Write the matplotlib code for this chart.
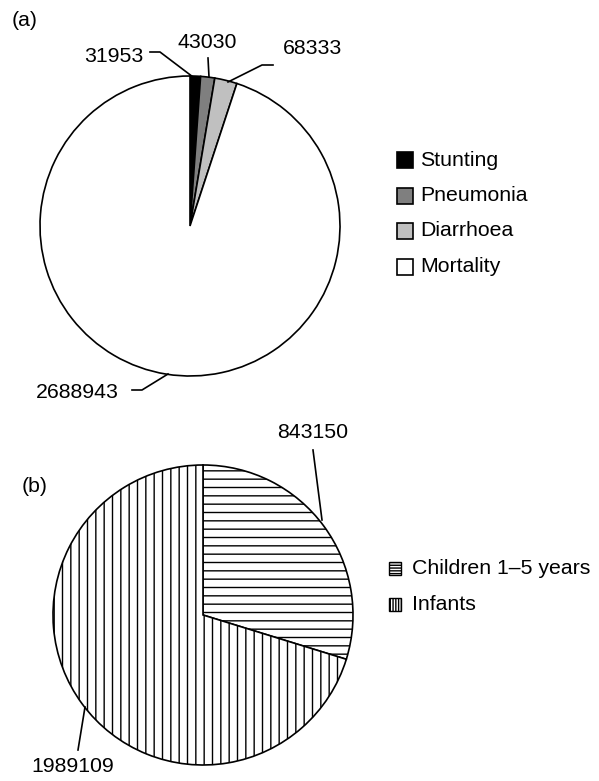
import matplotlib.pyplot as plt
from matplotlib.patches import Rectangle

plt.rcParams['font.family'] = ['Liberation Sans', 'DejaVu Sans']
plt.rcParams['hatch.linewidth'] = 1.0

# (a) causes
causes = ["Stunting", "Pneumonia", "Diarrhoea", "Mortality"]
cause_values = [31953, 43030, 68333, 2688943]
cause_colors = ["#000000", "#7f7f7f", "#c0c0c0", "#ffffff"]

# (b) age groups
groups = ["Children 1\u20135 years", "Infants"]
group_values = [843150, 1989109]
group_hatches = ["--", "||"]

fig = plt.figure(figsize=(5.99, 7.81), dpi=100)
ax = fig.add_axes([0, 0, 1, 1])

# y axis is flipped (pixel coords), so start at -90 and go "counterclockwise"
ax.pie(cause_values, colors=cause_colors, center=(190, 226), radius=150,
       startangle=-90, counterclock=True,
       wedgeprops=dict(edgecolor="black", linewidth=1.2))

wedges, _ = ax.pie(group_values, colors=["white", "white"], center=(203, 615), radius=150,
                   startangle=-90, counterclock=True,
                   wedgeprops=dict(edgecolor="black", linewidth=1.2))
for w, h in zip(wedges, group_hatches):
    w.set_hatch(h)

ax.set_xlim(0, 599)
ax.set_ylim(781, 0)
ax.set_aspect("auto")
ax.axis("off")

fs = 15.3
lw = 1.2

ax.text(12, 20, "(a)", fontsize=fs, va="center")
ax.text(22, 487, "(b)", fontsize=fs, va="center")

# value labels with leader lines
ax.text(114, 57, f"{cause_values[0]}", fontsize=fs, ha="center", va="center")
ax.plot([150, 160, 193], [52, 52, 77], color="black", lw=lw)
ax.text(207, 42, f"{cause_values[1]}", fontsize=fs, ha="center", va="center")
ax.plot([208, 209], [58, 77], color="black", lw=lw)
ax.text(283, 49, f"{cause_values[2]}", fontsize=fs, ha="left", va="center")
ax.plot([273, 262, 228], [65, 65, 82], color="black", lw=lw)
ax.text(77, 392, f"{cause_values[3]}", fontsize=fs, ha="center", va="center")
ax.plot([132, 142, 168], [390, 390, 374], color="black", lw=lw)

ax.text(313, 432, f"{group_values[0]}", fontsize=fs, ha="center", va="center")
ax.plot([313, 322], [450, 520], color="black", lw=lw)
ax.text(73, 767, f"{group_values[1]}", fontsize=fs, ha="center", va="center")
ax.plot([78, 85], [750, 707], color="black", lw=lw)

# legend (a)
for i, (lab, col) in enumerate(zip(causes, cause_colors)):
    y = 160 + i * 35.5
    ax.add_patch(Rectangle((397, y - 8), 16, 16, facecolor=col,
                           edgecolor="black", lw=1.2))
    ax.text(420, y, lab, fontsize=fs, va="center")

# legend (b)
for i, (lab, h) in enumerate(zip(groups, ["------", "||||||"])):
    y = 568 + i * 36
    ax.add_patch(Rectangle((389, y - 6.5), 12, 13, facecolor="white",
                           edgecolor="black", lw=1.0, hatch=h))
    ax.text(412, y, lab, fontsize=fs, va="center")

fig.savefig("out.png", dpi=100)
